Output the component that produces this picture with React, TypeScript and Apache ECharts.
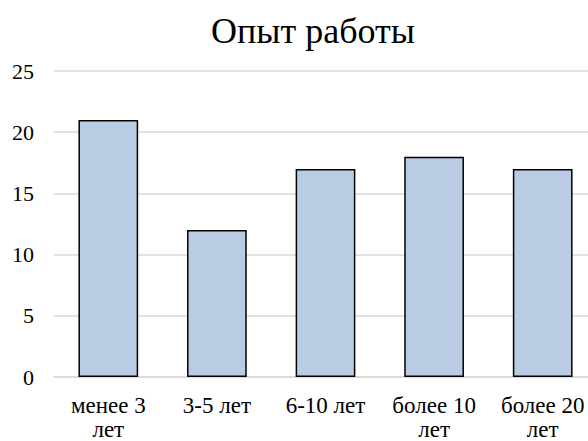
import React, { useEffect, useRef } from "react";
import * as echarts from "echarts";

const categories = ["менее 3\nлет", "3-5 лет", "6-10 лет", "более 10\nлет", "более 20\nлет"];
const values = [21, 12, 17, 18, 17];
const titleText = "Опыт работы";

export default function App() {
  const ref = useRef<HTMLDivElement>(null);
  useEffect(() => {
    if (!ref.current) return;
    const chart = echarts.init(ref.current, null, { renderer: "svg" });
    const font = "Liberation Serif";
    chart.setOption({
      animation: false,
      backgroundColor: "#ffffff",
      textStyle: { fontFamily: font },
      title: {
        text: titleText,
        left: 308,
        top: 8,
        textAlign: "center",
        textStyle: { fontFamily: font, fontSize: 36, fontWeight: "normal", color: "#000" },
      },
      grid: { left: 54, right: -9, top: 71, bottom: 64, containLabel: false, outerBoundsMode: "none" },
      xAxis: {
        type: "category",
        data: categories,
        axisLine: { show: true, lineStyle: { color: "#d9d9d9", width: 1.5 } },
        axisTick: { show: false },
        axisLabel: {
          fontFamily: font,
          fontSize: 23,
          color: "#000",
          margin: 16,
          lineHeight: 24,
          interval: 0,
        },
      },
      yAxis: {
        type: "value",
        min: 0,
        max: 25,
        interval: 5,
        axisLine: { show: false },
        axisTick: { show: false },
        splitLine: { lineStyle: { color: "#d9d9d9", width: 1.5 } },
        axisLabel: { fontFamily: font, fontSize: 22, color: "#000", margin: 20 },
      },
      series: [
        {
          type: "bar",
          data: values,
          barCategoryGap: "45%",
          itemStyle: { color: "#b9cce4", borderColor: "#000", borderWidth: 1.5 },
        },
      ],
    });
    return () => chart.dispose();
  }, []);
  return (
    <div
      ref={ref}
      style={{ position: "absolute", left: 0, top: 0, width: 588, height: 441, overflow: "hidden" }}
    />
  );
}
